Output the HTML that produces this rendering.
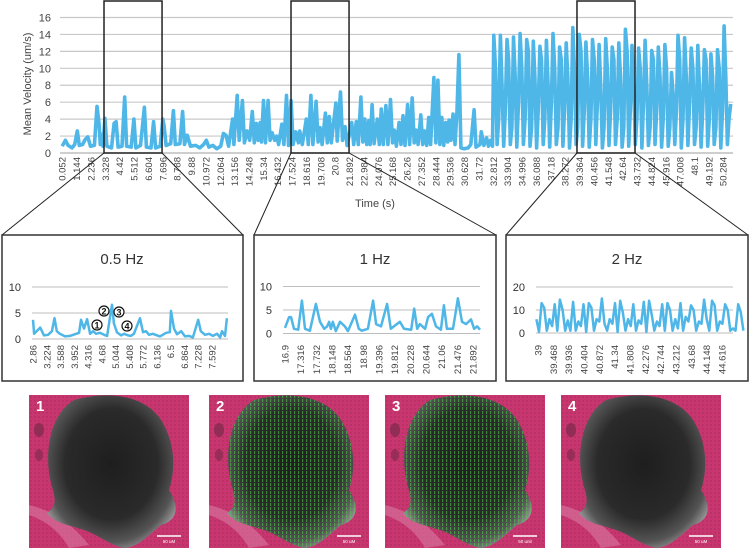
<!DOCTYPE html>
<html><head><meta charset="utf-8">
<style>
html,body{margin:0;padding:0;background:#fff;}
svg{display:block;font-family:"Liberation Sans",sans-serif;}
</style></head>
<body>
<svg id="fig" width="750" height="550" viewBox="0 0 750 550">
<defs>
<radialGradient id="blobg" cx="0.5" cy="0.45" r="0.6">
<stop offset="0" stop-color="#1e1e1e"/><stop offset="0.6" stop-color="#2a2a2a"/><stop offset="0.85" stop-color="#555"/><stop offset="1" stop-color="#9a9a9a"/>
</radialGradient>
<pattern id="dots" width="4" height="4" patternUnits="userSpaceOnUse"><rect x="1" y="0" width="1.2" height="3" fill="#4fd04a" opacity="0.8"/></pattern>
<pattern id="pinkdots" width="4" height="4" patternUnits="userSpaceOnUse"><rect width="4" height="4" fill="#c8366f"/><circle cx="2" cy="2" r="0.7" fill="#a82a5c"/></pattern>
</defs>
<g id="main"></g>
<g id="insets"></g>
<g id="images"></g>
</svg>
<script>
// ---- main chart data ----
const mainTimes = [0.05,0.3,0.5,0.8,1.0,1.2,1.35,1.6,1.8,2.0,2.2,2.5,2.7,2.85,2.95,3.05,3.15,3.3,3.45,3.8,4.0,4.15,4.3,4.6,4.8,4.95,5.3,5.5,5.65,6.0,6.3,6.45,6.8,7.0,7.15,7.5,7.7,7.8,7.95,8.3,8.5,8.65,9.0,9.2,9.35,9.55,9.8,10.2,10.5,10.8,11.0,11.2,11.5,11.8,12.1,12.3,12.5,12.7,13.0,13.1,13.35,13.5,13.75,13.9,14.1,14.3,14.5,14.65,14.8,14.95,15.1,15.2,15.35,15.5,15.7,15.85,16.0,16.2,16.35,16.5,16.75,16.9,17.1,17.25,17.45,17.6,17.8,18.0,18.1,18.3,18.6,18.75,18.95,19.1,19.35,19.5,19.65,19.8,20.05,20.2,20.35,20.5,20.85,20.95,21.2,21.35,21.55,21.7,22.05,22.2,22.4,22.55,22.75,22.9,23.05,23.2,23.35,23.45,23.6,23.75,24.0,24.15,24.3,24.45,24.65,24.8,25.0,25.15,25.3,25.45,25.65,25.8,25.95,26.1,26.3,26.45,26.65,26.8,26.95,27.1,27.3,27.45,27.6,27.75,27.9,28.05,28.3,28.45,28.6,28.75,28.9,29.05,29.2,29.35,29.45,29.6,29.75,29.9,30.05,30.2,30.35,30.6,30.9,31.1,31.35,31.5,31.8,31.9,32.1,32.3,32.45,32.6,32.75];
const mainValues = [0.8,1.5,0.9,0.6,1.0,2.6,0.9,1.0,1.6,1.9,0.8,0.9,5.5,3.5,1.0,2.2,0.8,4.1,0.8,0.6,3.5,3.7,0.7,0.8,6.6,0.8,0.7,4.0,0.6,0.9,5.4,0.7,0.6,3.7,0.6,0.8,4.0,3.2,0.9,1.1,5.0,1.0,1.1,4.9,1.0,2.1,0.8,0.9,0.6,1.0,1.5,0.7,0.9,0.5,0.8,2.3,2.1,0.8,4.0,1.0,6.8,1.5,6.2,1.2,2.6,1.5,4.9,1.2,3.5,1.5,3.6,1.3,6.2,1.2,6.2,1.5,2.4,1.5,2.0,1.0,3.4,1.0,6.8,0.9,6.2,1.0,2.5,1.2,2.6,1.0,4.0,1.0,6.8,1.0,6.1,1.3,3.0,1.0,4.7,1.2,4.3,1.2,5.9,1.4,7.2,1.5,3.1,0.9,3.6,1.0,3.7,1.0,6.6,1.3,4.0,1.0,3.8,1.0,5.7,1.1,4.0,1.0,5.2,1.0,5.6,1.0,6.3,1.2,2.7,0.8,3.6,1.0,4.4,0.9,5.7,1.0,6.5,1.2,2.7,1.0,4.5,1.0,2.6,0.9,4.2,1.0,8.9,1.2,8.6,1.0,4.2,0.9,3.6,1.3,3.9,1.5,4.6,1.0,5.0,11.6,0.6,0.5,0.6,1.0,5.1,0.7,1.0,2.5,0.9,1.8,0.8,1.5,0.8];
const denseStart = 32.85, denseStep = 0.125;
const denseValues = [13.9,10,1,4, 13.9,8,0.8,5, 13.4,11,1,3, 13.7,9,0.7,6, 14.1,10,1,4, 13.4,12,0.8,3, 13.2,9,0.6,5, 12.6,11,1,4, 13.3,8,0.7,6, 14.1,10,1,3, 12.5,11,0.8,5, 13.0,9,0.6,4, 14.8,10,1,3, 14.0,12,0.8,5, 13.1,9,0.7,4, 13.4,11,1,6, 12.8,8,0.6,3, 13.5,10,0.9,5, 12.5,11,1,4, 13.0,9,0.7,3, 14.6,12,0.8,5, 12.7,9,1,4, 12.4,10,0.6,6, 13.3,8,0.9,3, 12.1,11,1,5, 12.5,9,0.7,4, 12.8,10,0.8,3, 9.5,7,1,5, 13.9,11,0.6,4, 13.6,9,0.9,6, 12.4,10,1,3, 12.7,8,0.7,5, 12.2,11,0.8,4, 11.7,9,1,3, 12.2,10,0.6,5, 15.0,9,1,4, 5.8];
const mainYTicks = [0,2,4,6,8,10,12,14,16];
const mainXLabels = ["0.052","1.144","2.236","3.328","4.42","5.512","6.604","7.696","8.788","9.88","10.972","12.064","13.156","14.248","15.34","16.432","17.524","18.616","19.708","20.8","21.892","22.984","24.076","25.168","26.26","27.352","28.444","29.536","30.628","31.72","32.812","33.904","34.996","36.088","37.18","38.272","39.364","40.456","41.548","42.64","43.732","44.824","45.916","47.008","48.1","49.192","50.284"];
const zoomWindows = [[3.23,7.64],[17.44,21.85],[39.17,43.58]];

// ---- inset data ----
const inset1Times = [2.86,2.89,3.05,3.15,3.26,3.36,3.43,3.49,3.57,3.71,3.84,4.0,4.08,4.13,4.21,4.29,4.37,4.45,4.53,4.63,4.74,4.82,4.95,5.0,5.08,5.19,5.27,5.37,5.45,5.53,5.69,5.77,5.85,5.93,6.03,6.22,6.38,6.48,6.51,6.59,6.67,6.78,6.88,6.99,7.09,7.23,7.3,7.41,7.52,7.62,7.73,7.81,7.86,7.94,7.99];
const inset1Values = [3.7,1.0,2.2,0.7,0.8,1.5,4.0,1.5,1.0,0.5,0.6,1.0,1.2,3.7,2.0,3.8,1.0,1.5,1.0,1.2,0.8,0.6,6.6,3.0,1.3,0.7,1.0,0.7,0.6,1.0,4.0,1.3,1.5,0.8,1.0,0.5,1.2,1.3,5.4,2.0,0.9,1.5,0.5,0.6,0.3,3.7,1.5,0.8,1.0,0.6,1.0,0.3,1.5,0.6,4.0];
const inset1Labels = ["2.86","3.224","3.588","3.952","4.316","4.68","5.044","5.408","5.772","6.136","6.5","6.864","7.228","7.592"];
const inset2Times = [16.9,17.01,17.06,17.14,17.25,17.35,17.43,17.56,17.72,17.83,17.94,18.02,18.07,18.12,18.17,18.25,18.36,18.49,18.57,18.68,18.76,18.86,18.94,19.1,19.24,19.32,19.45,19.61,19.71,19.95,20.06,20.25,20.33,20.41,20.48,20.62,20.7,20.8,20.91,21.04,21.12,21.2,21.36,21.49,21.6,21.71,21.84,21.92,22.0,22.08];
const inset2Values = [1.2,3.5,3.5,1.0,0.8,7.0,1.0,0.6,6.3,2.5,1.0,1.5,2.5,1.0,2.5,0.5,2.5,1.5,0.5,2.5,4.0,1.0,0.6,1.0,7.0,2.0,1.5,6.3,1.0,2.5,1.0,0.8,5.3,1.0,2.0,1.0,3.5,4.2,1.5,0.8,6.0,1.0,1.0,7.5,2.5,2.0,3.0,1.0,1.5,0.8];
const inset2Labels = ["16.9","17.316","17.732","18.148","18.564","18.98","19.396","19.812","20.228","20.644","21.06","21.476","21.892"];
const inset3Start = 38.95, inset3Step = 0.08;
const inset3Values = [6,0.5,13,11,1,6,3,12.5,1,14.5,10,1,5.5,1,13.5,1,5,3,12.5,0.5,13,11,1,6,5,15,4,1,6,4,13,0.5,14,9,1,6,3,12.5,1,5.5,4,13.5,0.5,14,8,1,5,3,12.5,1,13,10,1,6,2,13,1,7,5,12,10,1,5,4,14.5,6,1,14,12,1,5,4,12.5,10,1,2,1,12.5,9,1];
const inset3Labels = ["39","39.468","39.936","40.404","40.872","41.34","41.808","42.276","42.744","43.212","43.68","44.148","44.616"];

const NS = "http://www.w3.org/2000/svg";
function mk(tag, attrs, parent){ const e=document.createElementNS(NS,tag); for(const k in attrs) e.setAttribute(k,attrs[k]); parent.appendChild(e); return e; }
const BLUE = "#4fb6e8";

// ===== MAIN CHART =====
const main = document.getElementById('main');
const mx = t => 61.5 + t*13.16;
const my = v => 153 - v*8.47;
mainYTicks.forEach(v=>{
  const g = mk('line',{x1:60,x2:733,y1:my(v),y2:my(v),stroke:v===0?'#b0b0b0':'#c8c8c8','stroke-width':1.2},main);
  
  
  const t = mk('text',{x:51,y:my(v)+4,'text-anchor':'end','font-size':11,fill:'#444'},main);
  t.textContent = v;
  
  
});
const mainX = mainXLabels.map(s=>parseFloat(s));
mainXLabels.forEach((s,i)=>{
  const x = mx(mainX[i]);
  const t = mk('text',{transform:`translate(${x+3.5},157) rotate(-90)`,'text-anchor':'end','font-size':9.5,fill:'#444'},main);
  t.textContent = s;
  
  
});
let pts = mainTimes.map((t,i)=>mx(t).toFixed(1)+','+my(mainValues[i]).toFixed(1));
denseValues.forEach((v,i)=>pts.push(mx(denseStart+i*denseStep).toFixed(1)+','+my(v).toFixed(1)));
const line = mk('polyline',{points:pts.join(' '),fill:'none',stroke:BLUE,'stroke-width':3.6,'stroke-linejoin':'round'},main);


const yt = mk('text',{transform:'translate(31,84) rotate(-90)','text-anchor':'middle','font-size':11,fill:'#444'},main);
yt.textContent='Mean Velocity (um/s)';


const xt = mk('text',{x:375,y:207,'text-anchor':'middle','font-size':11,fill:'#444'},main);
xt.textContent='Time (s)';



// ===== INSETS =====
const insets = document.getElementById('insets');
const panels = [
 {x:2,w:241,title:'0.5 Hz',tx:122,y0:339,pu:5.2,ticks:[0,5,10],t0:2.86,x0:33,ps:37.8,xl:25,gx1:32,gx2:228,labels:inset1Labels,times:inset1Times,vals:inset1Values},
 {x:254,w:242,title:'1 Hz',tx:375,y0:333.5,pu:4.7,ticks:[0,5,10],t0:16.9,x0:285,ps:37.66,xl:276,gx1:283,gx2:480,labels:inset2Labels,times:inset2Times,vals:inset2Values},
 {x:506,w:242,title:'2 Hz',tx:627,y0:333,pu:2.3,ticks:[0,10,20],t0:39,x0:538,ps:32.76,xl:529,gx1:536,gx2:733,labels:inset3Labels,times:inset3Values.map((v,i)=>inset3Start+i*inset3Step),vals:inset3Values}
];
panels.forEach((p,k)=>{
  const win = zoomWindows[k];
  const l1 = mk('line',{x1:mx(win[0]),y1:153,x2:p.x,y2:235,stroke:'#222','stroke-width':1},insets);
  
  
  const l2 = mk('line',{x1:mx(win[1]),y1:153,x2:p.x+p.w,y2:235,stroke:'#222','stroke-width':1},insets);
  
  
  const zr = mk('rect',{x:mx(win[0]),y:1,width:mx(win[1])-mx(win[0]),height:152,fill:'none',stroke:'#222','stroke-width':1.5},main);
  
  
  const box = mk('rect',{x:p.x,y:235,width:p.w,height:146,fill:'#fff',stroke:'#333','stroke-width':1.5},insets);
  
  
  const tt = mk('text',{x:p.tx,y:264,'text-anchor':'middle','font-size':15,fill:'#333'},insets);
  tt.textContent = p.title;
  
  
  p.ticks.forEach(v=>{
    const yy = p.y0 - v*p.pu;
    const g = mk('line',{x1:p.gx1,x2:p.gx2,y1:yy,y2:yy,stroke:'#bdbdbd','stroke-width':1},insets);
    
    
    const t = mk('text',{x:p.xl-4,y:yy+4,'text-anchor':'end','font-size':11,fill:'#333'},insets);
    t.textContent = v;
    
    
  });
  p.labels.forEach((s,i)=>{
    const x = p.x0 + (parseFloat(s)-p.t0)*p.ps;
    const t = mk('text',{transform:`translate(${x+3.5},345) rotate(-90)`,'text-anchor':'end','font-size':9.5,fill:'#444'},insets);
    t.textContent = s;
    
    
  });
  const ip = p.times.map((t,i)=>(p.x0+(t-p.t0)*p.ps).toFixed(1)+','+(p.y0-p.vals[i]*p.pu).toFixed(1)).join(' ');
  const pl = mk('polyline',{points:ip,fill:'none',stroke:BLUE,'stroke-width':2.5,'stroke-linejoin':'round'},insets);
  
  
});
// numbered markers on 0.5 Hz inset
[['1',97,325],['2',104,311],['3',119,312],['4',127,326]].forEach(m=>{
  const c = mk('circle',{cx:m[1],cy:m[2],r:5,fill:'#fff',stroke:'#111','stroke-width':1.2},insets);
  
  
  const t = mk('text',{x:m[1],y:m[2]+3.5,'text-anchor':'middle','font-size':9,'font-weight':'bold',fill:'#111'},insets);
  t.textContent = m[0];
  
  
});

// ===== IMAGES =====
const images = document.getElementById('images');
const imgX = [29,209,385,561];
const blob = "M45,5 C80,-5 120,0 135,30 C148,55 145,80 140,95 C150,110 150,125 132,130 C120,140 108,153 95,153 C80,150 70,140 55,135 C40,130 25,128 18,118 C30,110 25,100 22,88 C15,60 20,20 45,5Z";
imgX.forEach((x,i)=>{
  const g = mk('g',{transform:`translate(${x},395)`},images);
  
  
  mk('rect',{width:160,height:153,fill:'url(#pinkdots)'},g);
  mk('path',{d:"M0,110 C20,115 40,125 60,150 L40,153 C30,135 15,125 0,120Z",fill:'#d77aa0',opacity:0.6},g);
  mk('ellipse',{cx:10,cy:35,rx:5,ry:7,fill:'#7a2a4a',opacity:0.7},g);
  mk('ellipse',{cx:10,cy:60,rx:4,ry:6,fill:'#7a2a4a',opacity:0.6},g);
  mk('path',{d:blob,fill:'url(#blobg)'},g);
  if(i===1||i===2){ mk('path',{d:blob,fill:'url(#dots)',opacity:0.7},g); }
  const n = mk('text',{x:7,y:16,'font-size':15,'font-weight':'bold',fill:'#fff'},g);
  n.textContent = String(i+1);
  
  
  mk('line',{x1:128,x2:152,y1:141,y2:141,stroke:'#fff','stroke-width':1.5},g);
  const sb = mk('text',{x:140,y:148,'text-anchor':'middle','font-size':4.5,fill:'#fff'},g);
  sb.textContent = i===2?'50 unit':'50 uM';
  
  
});
</script>
</body></html>
